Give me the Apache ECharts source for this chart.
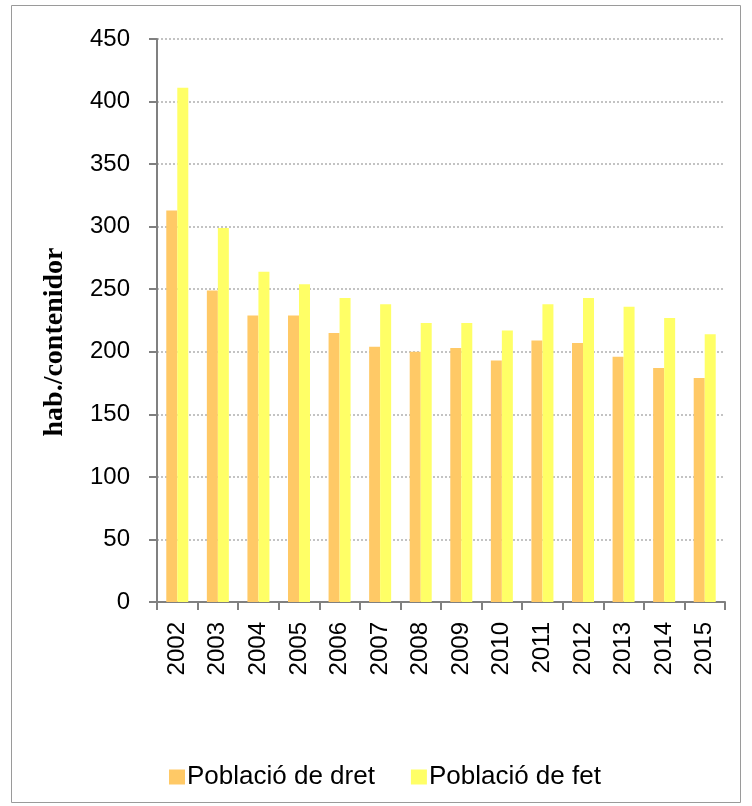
<!DOCTYPE html>
<html>
<head>
<meta charset="utf-8">
<script src="https://cdn.jsdelivr.net/npm/echarts@6/dist/echarts.min.js"></script>
<style>
html,body{margin:0;padding:0;background:#fff;}
#c{width:752px;height:806px;}
</style>
</head>
<body>
<div id="c"></div>
<script>
var years = ['2002','2003','2004','2005','2006','2007','2008','2009','2010','2011','2012','2013','2014','2015'];
var poblacioDret = [313, 249, 229, 229, 215, 204, 200, 203, 193, 209, 207, 196, 187, 179];
var poblacioFet = [411, 299, 264, 254, 243, 238, 223, 223, 217, 238, 243, 236, 227, 214];
var yTicks = {min: 0, max: 450, interval: 50};

var chart = echarts.init(document.getElementById('c'), null, {renderer: 'canvas'});
chart.setOption({
  animation: false,
  backgroundColor: '#ffffff',
  graphic: [
    {type: 'rect', shape: {x: 11.5, y: 5.5, width: 729, height: 797}, style: {fill: 'none', stroke: '#9a9a9a', lineWidth: 1}, z: -1},
    {type: 'text', x: 55, y: 342, rotation: Math.PI / 2,
     style: {text: 'hab./contenidor', font: 'bold 28px "Liberation Serif", serif', fill: '#000', align: 'center', verticalAlign: 'middle'}}
  ],
  grid: {left: 157, right: 27, top: 39, bottom: 204, containLabel: false},
  legend: {
    left: 164, top: 759, itemWidth: 16, itemHeight: 15, itemGap: 36,
    icon: 'rect',
    textStyle: {fontFamily: '"Liberation Sans", Arial, sans-serif', fontSize: 26, color: '#000', padding: [0, 0, 0, -3]},
    data: ['Població de dret', 'Població de fet']
  },
  xAxis: {
    type: 'category',
    data: years,
    boundaryGap: true,
    axisLine: {lineStyle: {color: '#808080', width: 2}},
    axisTick: {show: true, alignWithLabel: false, length: 8, lineStyle: {color: '#808080', width: 2}},
    axisLabel: {rotate: 90, margin: 20, fontFamily: '"Liberation Sans", Arial, sans-serif', fontSize: 24, color: '#000', interval: 0},
    splitLine: {show: false}
  },
  yAxis: {
    type: 'value',
    min: yTicks.min, max: yTicks.max, interval: yTicks.interval,
    axisLine: {show: true, lineStyle: {color: '#808080', width: 2}},
    axisTick: {show: true, length: 8, lineStyle: {color: '#808080', width: 2}},
    axisLabel: {margin: 27, fontFamily: '"Liberation Sans", Arial, sans-serif', fontSize: 24, color: '#000'},
    splitLine: {show: true, lineStyle: {color: '#b0b0b0', type: [2, 2], width: 1.5}}
  },
  series: [
    {name: 'Població de dret', type: 'bar', data: poblacioDret, barWidth: 11, barGap: '0%',
     itemStyle: {color: '#FFC966'}},
    {name: 'Població de fet', type: 'bar', data: poblacioFet, barWidth: 11, barGap: '0%',
     itemStyle: {color: '#FFFF66'}}
  ]
});
</script>
</body>
</html>
